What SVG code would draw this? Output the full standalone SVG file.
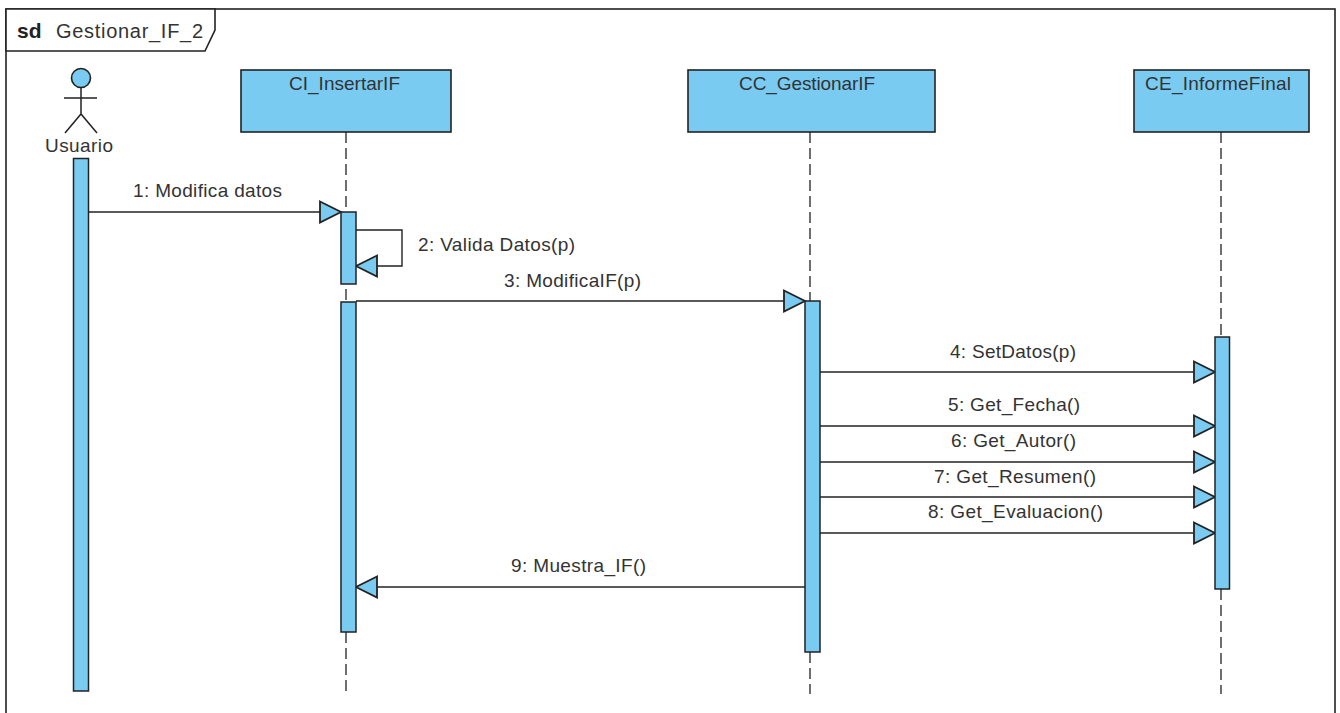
<svg xmlns="http://www.w3.org/2000/svg" width="1340" height="713" viewBox="0 0 1340 713">
<style>
text{font-family:"Liberation Sans",Arial,sans-serif;font-size:19px;fill:#333;text-anchor:start}
.box{fill:#79cbf2;stroke:#222;stroke-width:1.6}
.act{fill:#79cbf2;stroke:#222;stroke-width:1.5}
.ll{stroke:#222;stroke-width:1.3;stroke-dasharray:11 5;fill:none}
.msg{stroke:#222;stroke-width:1.4;fill:none}
.head{fill:#79cbf2;stroke:#222;stroke-width:1.8}
.frame{fill:#fff;stroke:#222;stroke-width:1.6}
</style>
<defs>
<polygon id="hr" class="head" points="-21,-10.5 0,0 -21,10.5"/>
<polygon id="hl" class="head" points="21,-10.5 0,0 21,10.5"/>
</defs>
<rect width="1340" height="713" fill="#fff"/>
<g id="frame">
<rect x="6" y="9" width="1329" height="720" fill="#fff" stroke="#222" stroke-width="1.6"/>
<path class="frame" d="M6 9H215V30L205 51H6Z"/>
<text x="17" y="38" style="font-weight:bold;font-size:21px;fill:#222">sd</text>
<text x="56" y="38" style="font-size:20px" textLength="147">Gestionar_IF_2</text>
</g>
<g id="connectors">
<path class="ll" d="M346 132V212"/><path class="ll" d="M346 289V301"/><path class="ll" d="M346 632V694"/>
<path class="ll" d="M810 132V301"/><path class="ll" d="M810 652V694"/>
<path class="ll" d="M1221 132V337"/><path class="ll" d="M1221 589V694"/>
<path class="msg" d="M88 212H320"/><use href="#hr" x="341" y="212"/>
<path class="msg" d="M356 230H402V266H376"/><use href="#hl" x="356" y="266"/>
<path class="msg" d="M356 301H784"/><use href="#hr" x="805" y="301"/>
<path class="msg" d="M820 372H1194"/><use href="#hr" x="1215" y="372"/>
<path class="msg" d="M820 426H1194"/><use href="#hr" x="1215" y="426"/>
<path class="msg" d="M820 462H1194"/><use href="#hr" x="1215" y="462"/>
<path class="msg" d="M820 497H1194"/><use href="#hr" x="1215" y="497"/>
<path class="msg" d="M820 533H1194"/><use href="#hr" x="1215" y="533"/>
<path class="msg" d="M805 587H376"/><use href="#hl" x="356" y="587"/>
<text x="133" y="197" textLength="149">1: Modifica datos</text>
<text x="418" y="251" textLength="157">2: Valida Datos(p)</text>
<text x="504" y="287" textLength="137">3: ModificaIF(p)</text>
<text x="950" y="358" textLength="126">4: SetDatos(p)</text>
<text x="948" y="411" textLength="132">5: Get_Fecha()</text>
<text x="951" y="447" textLength="125">6: Get_Autor()</text>
<text x="934" y="483" textLength="162">7: Get_Resumen()</text>
<text x="928" y="518" textLength="175">8: Get_Evaluacion()</text>
<text x="511" y="572" textLength="135">9: Muestra_IF()</text>
</g>
<g id="usuario">
<circle cx="81" cy="78" r="9.5" class="box"/>
<path d="M81 88V114M64 98H97M65 133L81 114L97 133" fill="none" stroke="#222" stroke-width="1.5"/>
<text x="45" y="152" textLength="68">Usuario</text>
<rect class="act" x="73.5" y="158.5" width="15" height="532.5"/>
</g>
<g id="ci_insertarif">
<rect class="box" x="241" y="70" width="210" height="62"/>
<text x="289" y="90" textLength="111">CI_InsertarIF</text>
<rect class="act" x="341" y="212" width="15" height="72"/>
<rect class="act" x="341" y="302" width="15" height="330"/>
</g>
<g id="cc_gestionarif">
<rect class="box" x="688" y="70" width="247" height="62"/>
<text x="739" y="90" textLength="136">CC_GestionarIF</text>
<rect class="act" x="805" y="301" width="15" height="351"/>
</g>
<g id="ce_informefinal">
<rect class="box" x="1134" y="70" width="175" height="62"/>
<text x="1145" y="90" textLength="146">CE_InformeFinal</text>
<rect class="act" x="1215" y="337" width="14.5" height="252"/>
</g>
</svg>
